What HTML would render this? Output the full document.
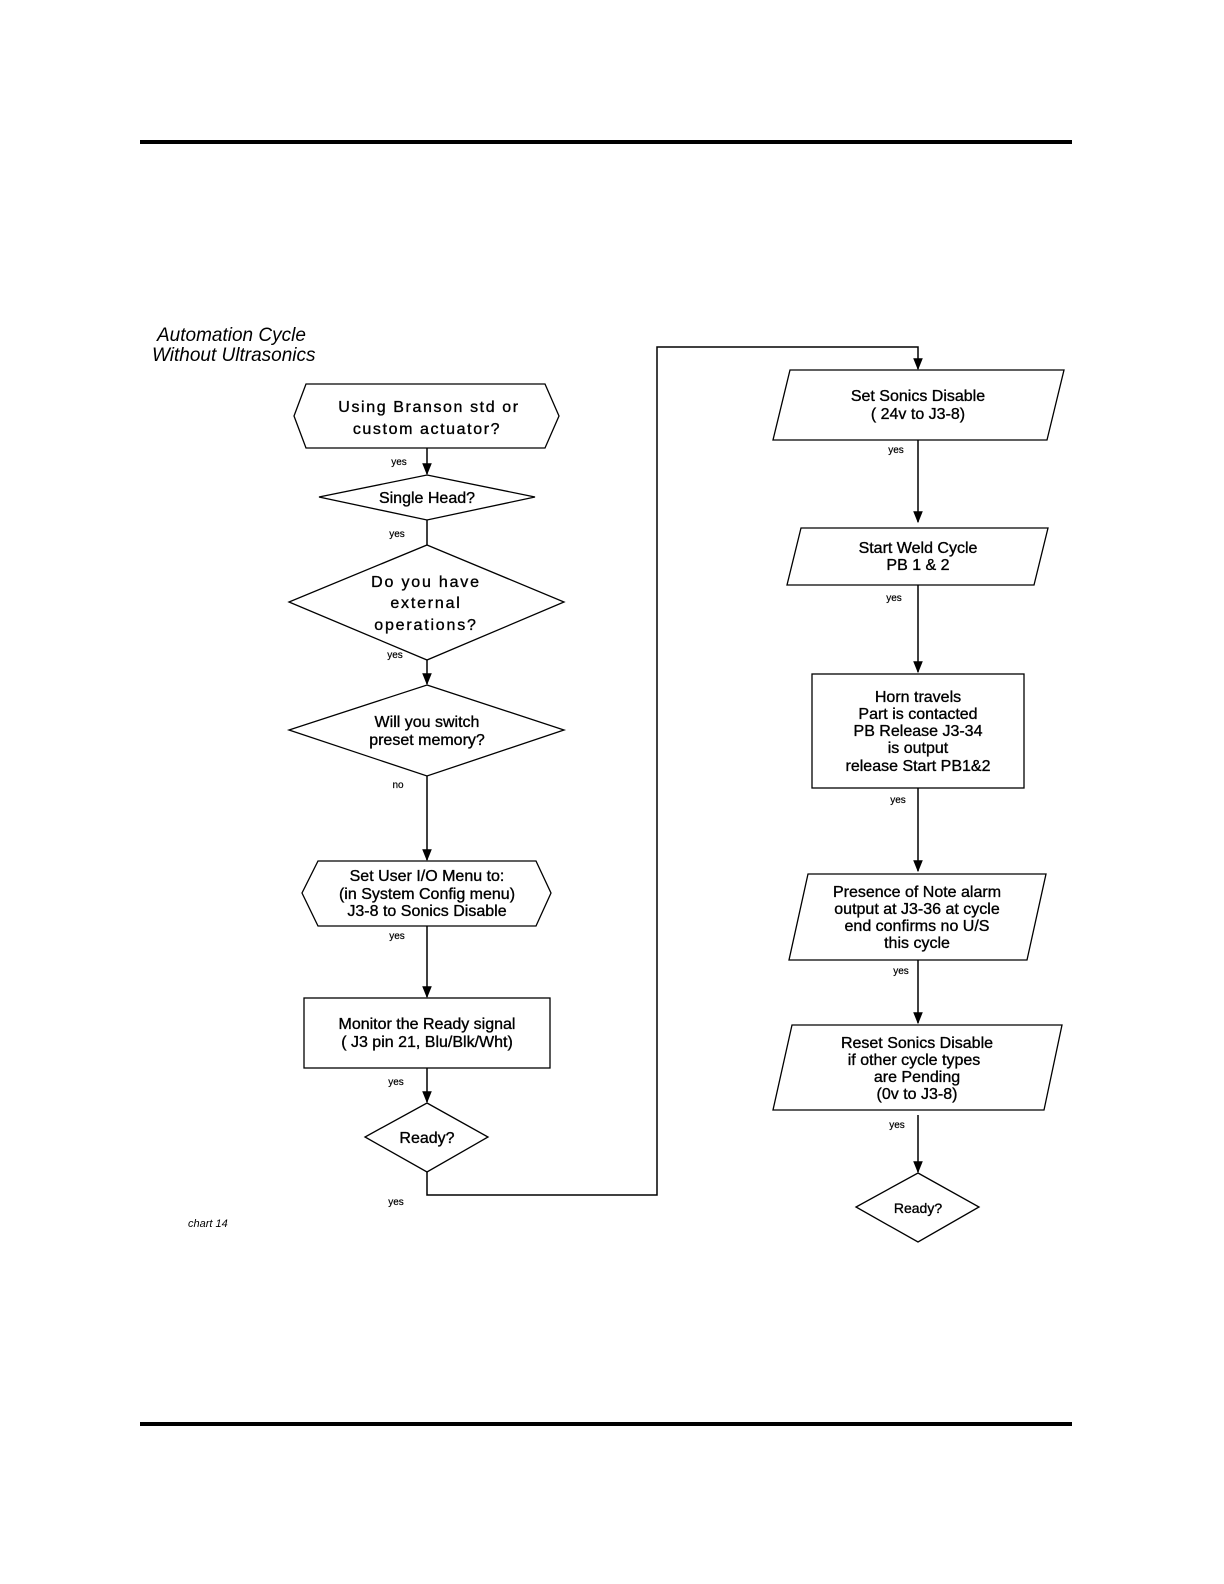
<!DOCTYPE html>
<html><head><meta charset="utf-8"><style>
html,body{margin:0;padding:0;background:#fff;width:1224px;height:1584px;overflow:hidden}
svg{display:block}
text{font-family:"Liberation Sans",Arial,sans-serif;fill:#000}
.t{font-size:16px;text-anchor:middle;stroke:#000;stroke-width:0.35px}
.s{font-size:10px;text-anchor:middle;stroke:#000;stroke-width:0.2px}
</style></head><body>
<svg width="1224" height="1584" viewBox="0 0 1224 1584" xmlns="http://www.w3.org/2000/svg">
<defs><marker id="a" viewBox="0 0 10 10" refX="9" refY="5" markerWidth="8" markerHeight="8" orient="auto"><path d="M0,1 L10,5 L0,9 z" fill="#000"/></marker></defs>
<rect x="140" y="140" width="932" height="4" fill="#000"/>
<rect x="140" y="1422" width="932" height="4" fill="#000"/>
<text x="157" y="341" style="font-size:19px;font-style:italic">Automation Cycle</text>
<text x="152" y="361" style="font-size:19px;font-style:italic">Without Ultrasonics</text>
<text x="188" y="1227" style="font-size:11px;font-style:italic">chart 14</text>
<g fill="none" stroke="#000" stroke-width="1.3">
<polygon points="306,384 545,384 559,416 545,448 306,448 294,416"/>
<polygon points="427,475 535,497 427,520 319,497"/>
<polygon points="427,545 564,602 427,660 289,602"/>
<polygon points="427,685 564,730 427,776 289,730"/>
<polygon points="318,861 536,861 551,893 536,926 318,926 302,893"/>
<rect x="304" y="998" width="246" height="70"/>
<polygon points="427,1103 488,1137 427,1172 365,1137"/>
<polygon points="790,370 1064,370 1047,440 773,440"/>
<polygon points="801,528 1048,528 1034,585 787,585"/>
<rect x="812" y="674" width="212" height="114"/>
<polygon points="808,874 1046,874 1027,960 789,960"/>
<polygon points="792,1025 1062,1025 1044,1110 773,1110"/>
<polygon points="918,1173 979,1207 918,1242 856,1207"/>
<g stroke-width="1.5">
<line x1="427" y1="448" x2="427" y2="474" marker-end="url(#a)"/>
<line x1="427" y1="520" x2="427" y2="545"/>
<line x1="427" y1="660" x2="427" y2="684" marker-end="url(#a)"/>
<line x1="427" y1="776" x2="427" y2="860" marker-end="url(#a)"/>
<line x1="427" y1="926" x2="427" y2="997" marker-end="url(#a)"/>
<line x1="427" y1="1068" x2="427" y2="1102" marker-end="url(#a)"/>
<polyline points="427,1172 427,1195 657,1195 657,347 918,347 918,369" marker-end="url(#a)"/>
<line x1="918" y1="440" x2="918" y2="522" marker-end="url(#a)"/>
<line x1="918" y1="585" x2="918" y2="672" marker-end="url(#a)"/>
<line x1="918" y1="788" x2="918" y2="871" marker-end="url(#a)"/>
<line x1="918" y1="960" x2="918" y2="1023" marker-end="url(#a)"/>
<line x1="918" y1="1115" x2="918" y2="1172" marker-end="url(#a)"/>
</g>
</g>
<text class="t" x="429" y="412" style="letter-spacing:1.6px">Using Branson std or</text>
<text class="t" x="427" y="434" style="letter-spacing:1.6px">custom actuator?</text>
<text class="t" x="427" y="503">Single Head?</text>
<text class="t" x="426" y="587" style="letter-spacing:1.8px">Do you have</text>
<text class="t" x="426" y="608" style="letter-spacing:1.8px">external</text>
<text class="t" x="426" y="630" style="letter-spacing:1.8px">operations?</text>
<text class="t" x="427" y="727">Will you switch</text>
<text class="t" x="427" y="745">preset memory?</text>
<text class="t" x="427" y="881">Set User I/O Menu to:</text>
<text class="t" x="427" y="899">(in System Config menu)</text>
<text class="t" x="427" y="916">J3-8 to Sonics Disable</text>
<text class="t" x="427" y="1029">Monitor the Ready signal</text>
<text class="t" x="427" y="1047">( J3 pin 21, Blu/Blk/Wht)</text>
<text class="t" x="427" y="1143">Ready?</text>
<text class="t" x="918" y="401">Set Sonics Disable</text>
<text class="t" x="918" y="419">( 24v to J3-8)</text>
<text class="t" x="918" y="553">Start Weld Cycle</text>
<text class="t" x="918" y="570">PB 1 &amp; 2</text>
<text class="t" x="918" y="702">Horn travels</text>
<text class="t" x="918" y="719">Part is contacted</text>
<text class="t" x="918" y="736">PB Release J3-34</text>
<text class="t" x="918" y="753">is output</text>
<text class="t" x="918" y="771">release Start PB1&amp;2</text>
<text class="t" x="917" y="897">Presence of Note alarm</text>
<text class="t" x="917" y="914">output at J3-36 at cycle</text>
<text class="t" x="917" y="931">end confirms no U/S</text>
<text class="t" x="917" y="948">this cycle</text>
<text class="t" x="917" y="1048">Reset Sonics Disable</text>
<text class="t" x="914" y="1065">if other cycle types</text>
<text class="t" x="917" y="1082">are Pending</text>
<text class="t" x="917" y="1099">(0v to J3-8)</text>
<text class="t" x="918" y="1213" style="font-size:14px">Ready?</text>
<text class="s" x="399" y="465">yes</text>
<text class="s" x="397" y="537">yes</text>
<text class="s" x="395" y="658">yes</text>
<text class="s" x="398" y="788">no</text>
<text class="s" x="397" y="939">yes</text>
<text class="s" x="396" y="1085">yes</text>
<text class="s" x="396" y="1205">yes</text>
<text class="s" x="896" y="453">yes</text>
<text class="s" x="894" y="601">yes</text>
<text class="s" x="898" y="803">yes</text>
<text class="s" x="901" y="974">yes</text>
<text class="s" x="897" y="1128">yes</text>
</svg>
</body></html>
